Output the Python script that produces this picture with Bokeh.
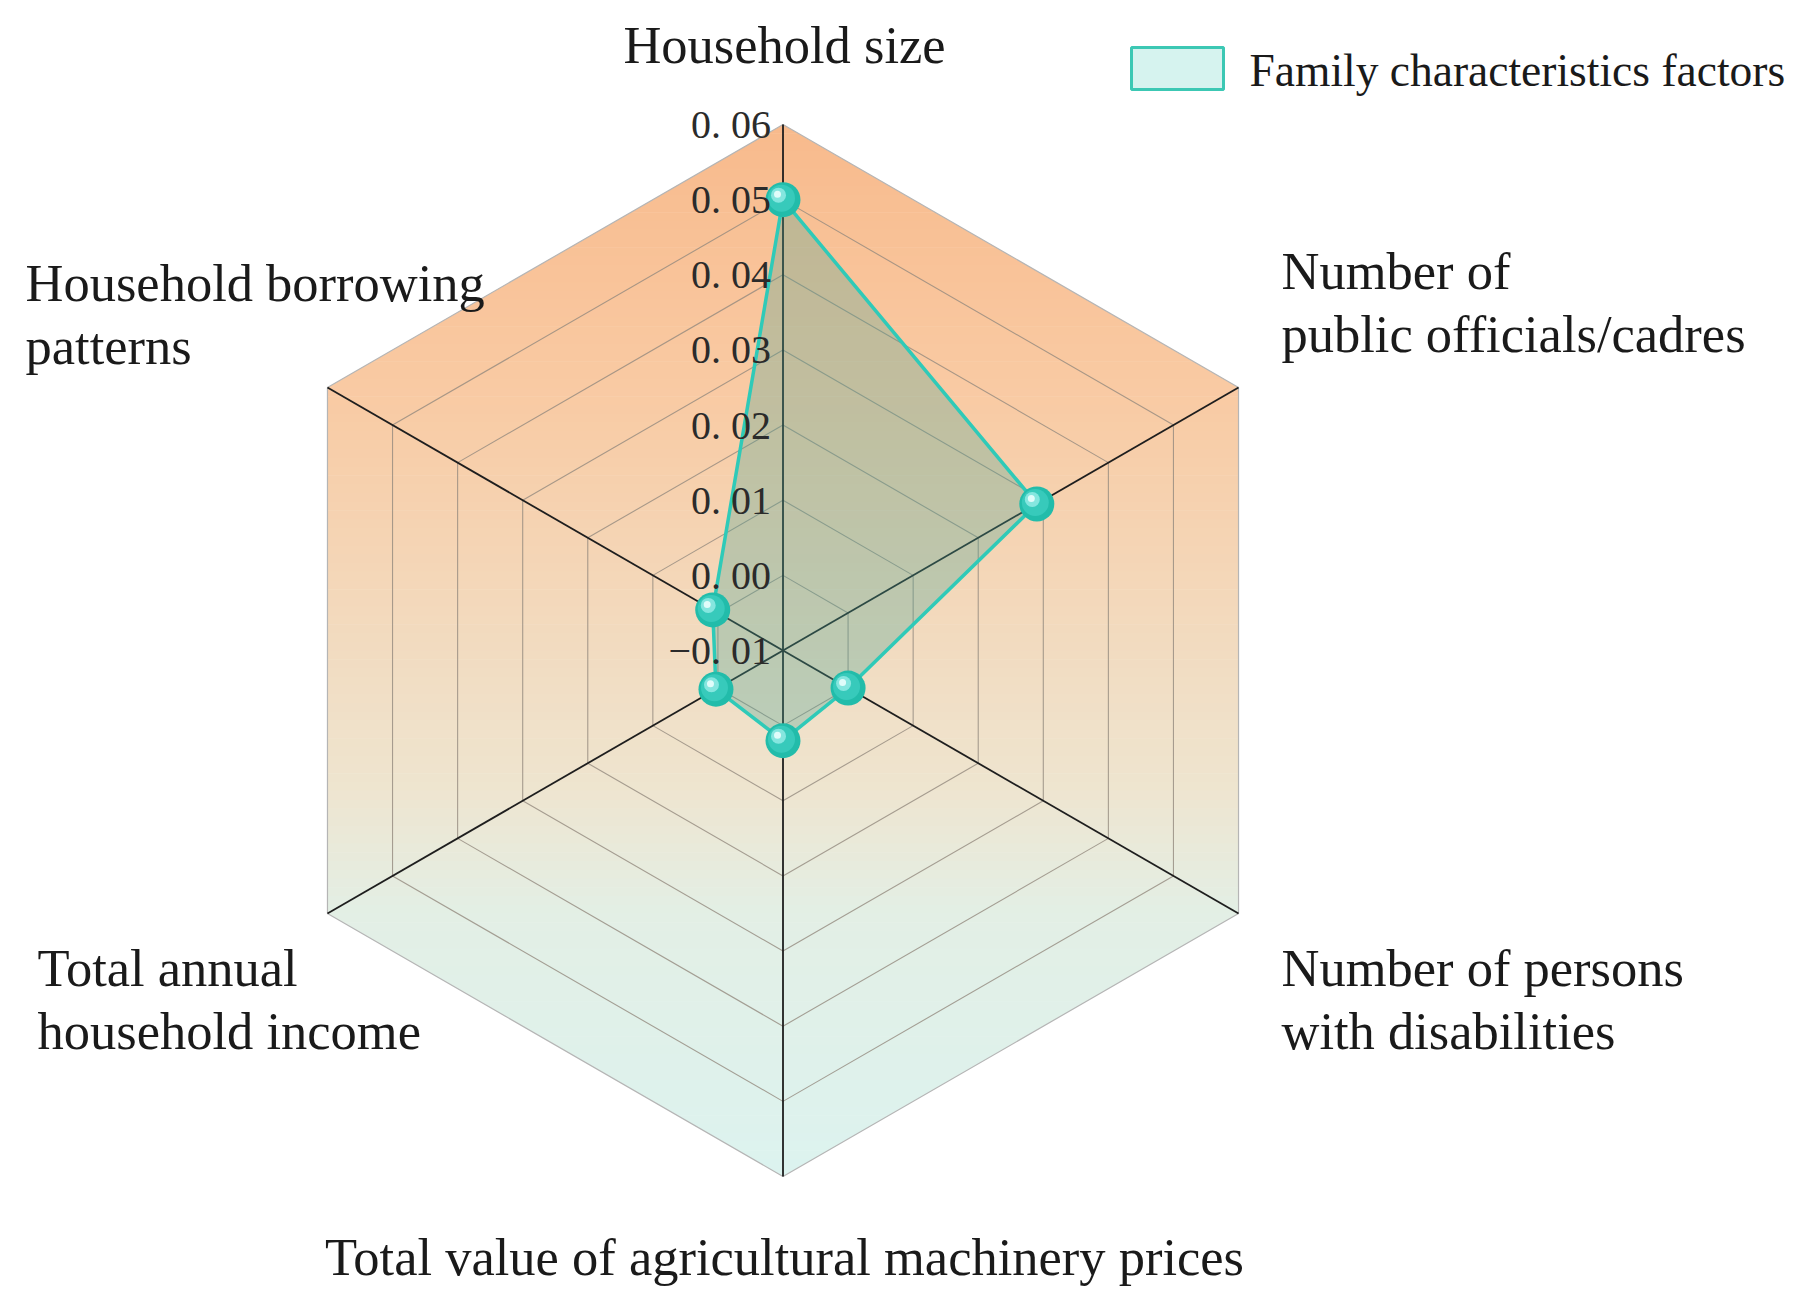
import numpy as np
from bokeh.plotting import figure
from bokeh.models import Range1d
from bokeh.embed import file_html
from bokeh.resources import INLINE
from bokeh.core.properties import value

# ---------------- data ----------------
categories = [
    "Household size",
    "Number of public officials/cadres",
    "Number of persons with disabilities",
    "Total value of agricultural machinery prices",
    "Total annual household income",
    "Household borrowing patterns",
]
series_name = "Family characteristics factors"
values = [0.050, 0.029, 0.000, 0.002, 0.0003, 0.0008]
tick_values = [-0.01, 0.00, 0.01, 0.02, 0.03, 0.04, 0.05, 0.06]
tick_labels = ["\u22120. 01", "0. 00", "0. 01", "0. 02", "0. 03", "0. 04", "0. 05", "0. 06"]
r_min, r_max = -0.01, 0.06

# ---------------- layout ----------------
W, H = 1797, 1296
cx, cy, R = 782.5, 650.0, 526.0
FONT = "Liberation Serif"

angles = np.deg2rad([90 - 60 * i for i in range(len(categories))])


def rad(v):
    return (v - r_min) / (r_max - r_min) * R


def pos(v, th):
    r = rad(v)
    return cx + r * np.cos(th), cy - r * np.sin(th)


p = figure(width=W, height=H, x_range=Range1d(0, W), y_range=Range1d(H, 0),
           output_backend="svg", toolbar_location=None, x_axis_type=None, y_axis_type=None,
           min_border=0)
p.grid.visible = False
p.outline_line_color = None
p.background_fill_color = "white"

# ---------------- gradient background (horizontal bands clipped to hexagon) ----------------
hex_x = [pos(r_max, a)[0] for a in angles]
hex_y = [pos(r_max, a)[1] for a in angles]


def clip(poly, yv, keep_below):
    out = []
    n = len(poly)
    for i in range(n):
        a = poly[i]
        b = poly[(i + 1) % n]
        ina = a[1] >= yv if keep_below else a[1] <= yv
        inb = b[1] >= yv if keep_below else b[1] <= yv
        if ina:
            out.append(a)
        if ina != inb:
            t = (yv - a[1]) / (b[1] - a[1])
            out.append((a[0] + t * (b[0] - a[0]), yv))
    return out


stops_y = [cy - R, cy - R * 0.5, cy + 0.27 * R, cy + 0.5 * R, cy + R]
stops_c = [(248, 186, 140), (249, 202, 163), (238, 229, 208), (227, 239, 229), (220, 243, 239)]


def color_at(y):
    for i in range(len(stops_y) - 1):
        if y <= stops_y[i + 1]:
            t = (y - stops_y[i]) / (stops_y[i + 1] - stops_y[i])
            c = [stops_c[i][k] + t * (stops_c[i + 1][k] - stops_c[i][k]) for k in range(3)]
            return "#%02x%02x%02x" % tuple(int(round(v)) for v in c)
    return "#%02x%02x%02x" % stops_c[-1]


hexpoly = list(zip(hex_x, hex_y))
nb = 120
edges = np.linspace(cy - R, cy + R, nb + 1)
bx, by, bc = [], [], []
for i in range(nb):
    y0, y1 = edges[i], edges[i + 1] + 0.6
    pg = clip(clip(hexpoly, y0, True), y1, False)
    if len(pg) >= 3:
        bx.append([q[0] for q in pg])
        by.append([q[1] for q in pg])
        bc.append(color_at((y0 + y1) / 2))
p.patches(bx, by, fill_color=bc, line_color=None)

# ---------------- split lines ----------------
gx, gy = [], []
for tv in tick_values[1:-1]:
    xs = [pos(tv, a)[0] for a in angles] + [pos(tv, angles[0])[0]]
    ys = [pos(tv, a)[1] for a in angles] + [pos(tv, angles[0])[1]]
    gx.append(xs)
    gy.append(ys)
p.multi_line(gx, gy, line_color="#948a7e", line_width=1.1, line_alpha=0.8)
p.line(hex_x + [hex_x[0]], hex_y + [hex_y[0]], line_color="#b5b5b5", line_width=1.2)

# axis lines
ax_x = [[cx, pos(r_max, a)[0]] for a in angles]
ax_y = [[cy, pos(r_max, a)[1]] for a in angles]
p.multi_line(ax_x, ax_y, line_color="#1e1e1e", line_width=1.8)

# ---------------- data polygon ----------------
dx = [pos(v, a)[0] for v, a in zip(values, angles)]
dy = [pos(v, a)[1] for v, a in zip(values, angles)]
p.patch(dx, dy, fill_color="#4aa596", fill_alpha=0.32, line_color="#2fcab8", line_width=3.5)

# spheres
p.scatter(dx, dy, size=35, fill_color="#22bcaa", line_color=None)
p.scatter([x - 1.5 for x in dx], [y - 1.5 for y in dy], size=27, fill_color="#37cabb", line_color=None)
p.scatter([x - 4.5 for x in dx], [y - 4.5 for y in dy], size=15, fill_color="#85e6df", line_color=None)
p.scatter([x - 5.5 for x in dx], [y - 5.5 for y in dy], size=7, fill_color="#e0fcfa", line_color=None)

# ---------------- tick labels ----------------
tx = [cx - 12 for _ in tick_values]
ty = [pos(tv, np.pi / 2)[1] for tv in tick_values]
p.text(tx, ty, text=tick_labels, text_align="right", text_baseline="middle",
       text_font=value(FONT), text_font_size="40px", text_color="#2b2b2b")

# ---------------- category labels ----------------
lab_lines = [
    ["Household size"],
    ["Number of", "public officials/cadres"],
    ["Number of persons", "with disabilities"],
    ["Total value of agricultural machinery prices"],
    ["Total annual", "household income"],
    ["Household borrowing", "patterns"],
]
lab_anchor = [(784, 44, "center"), (1281, 270, "left"), (1281, 967, "left"),
              (784, 1256, "center"), (37, 967, "left"), (25, 282, "left")]
line_h = 63
for lines, (lx, ly, al) in zip(lab_lines, lab_anchor):
    p.text([lx] * len(lines), [ly + k * line_h for k in range(len(lines))], text=lines,
           text_align=al, text_baseline="middle", text_font=value(FONT),
           text_font_size="52.5px", text_color="#1a1a1a")

# ---------------- legend ----------------
p.quad(left=[1131], right=[1223], top=[47], bottom=[89], fill_color="#d6f3ef",
       line_color="#3cc8b4", line_width=3)
p.text([1249], [70], text=[series_name], text_align="left", text_baseline="middle",
       text_font=value(FONT), text_font_size="45.5px", text_color="#1a1a1a")

open("out.html", "w").write(file_html(p, INLINE))
